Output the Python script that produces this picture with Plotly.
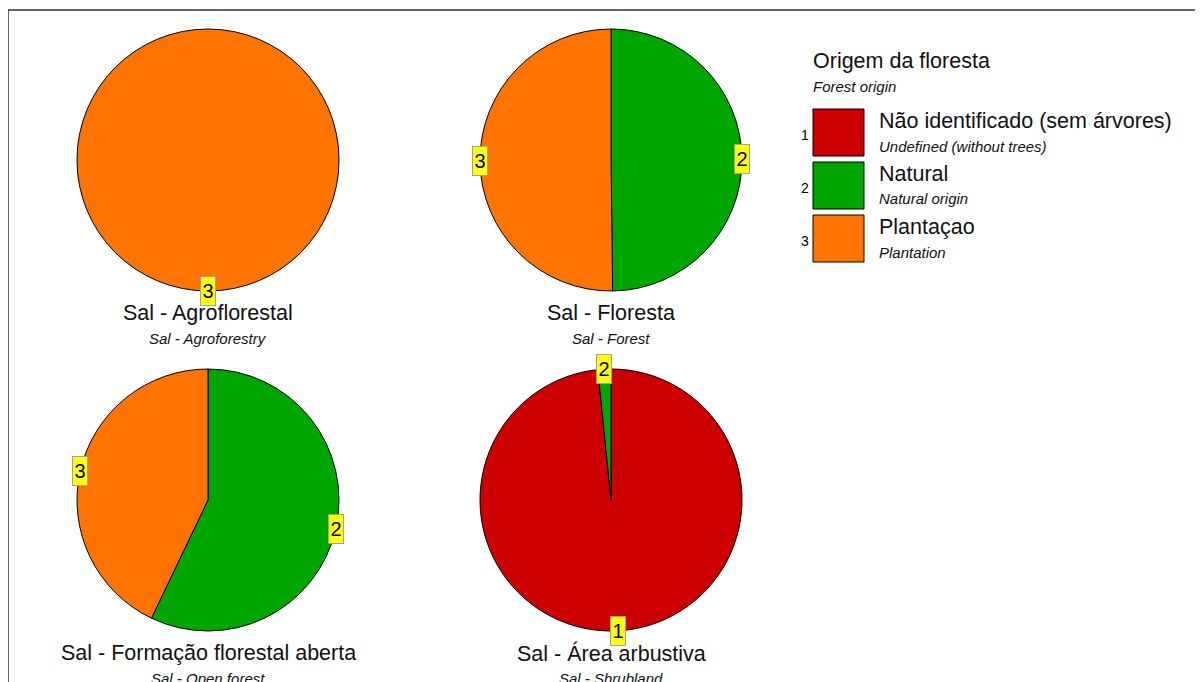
import plotly.graph_objects as go
import math

W, H = 1203, 682

# ---- data ----
codes = [1, 2, 3]
cat_pt = ["Não identificado (sem árvores)", "Natural", "Plantaçao"]
cat_en = ["Undefined (without trees)", "Natural origin", "Plantation"]
colors = ["#CC0000", "#00A600", "#FF7400"]

titles_pt = ["Sal - Agroflorestal", "Sal - Floresta",
             "Sal - Formação florestal aberta", "Sal - Área arbustiva"]
titles_en = ["Sal - Agroforestry", "Sal - Forest", "Sal - Open forest", "Sal - Shrubland"]

agro = [0, 0, 100]
floresta = [0, 49.8, 50.2]
aberta = [0, 57.1, 42.9]
arbustiva = [98.4, 1.6, 0]
series = [agro, floresta, aberta, arbustiva]

legend_title = "Origem da floresta"
legend_sub = "Forest origin"

# ---- layout (pixels in the page; page has an 8px body margin) ----
OFF = 8
centers = [(208, 160), (611, 160), (208, 500), (611, 500)]
R = 131

def px(x):
    return (x - OFF) / W

def py(y):
    return 1 - (y - OFF) / H

fig = go.Figure()
annotations = []
shapes = []

FONT = "Liberation Sans, Arial, sans-serif"
BIG = 21.5
SMALL = 15
TXT = "#111111"

for vals, (cx, cy), tpt, ten in zip(series, centers, titles_pt, titles_en):
    labs = [c for c, v in zip(codes, vals) if v > 0]
    vv = [v for v in vals if v > 0]
    cc = [col for col, v in zip(colors, vals) if v > 0]
    fig.add_trace(go.Pie(
        labels=[str(l) for l in labs], values=vv, sort=False, direction="clockwise",
        rotation=0, marker=dict(colors=cc, line=dict(color="black", width=1)),
        textinfo="none", hoverinfo="label+percent", showlegend=False,
        domain=dict(x=[px(cx - R), px(cx + R)], y=[py(cy + R), py(cy - R)]),
    ))
    total = sum(vv)
    cum = 0
    for l, v in zip(labs, vv):
        mid = (cum + v / 2) / total * 2 * math.pi
        cum += v
        lx = cx + R * math.sin(mid)
        ly = cy - R * math.cos(mid)
        annotations.append(dict(
            x=px(lx), y=py(ly), xref="paper", yref="paper", text=str(l),
            showarrow=False, bgcolor="#FFFF00", bordercolor="#A0A0A0", borderwidth=1,
            borderpad=0, font=dict(family=FONT, size=20, color="black"),
            xanchor="center", yanchor="middle", width=14, height=28,
        ))
    annotations.append(dict(
        x=px(cx), y=py(cy + R + 22), xref="paper", yref="paper", text=tpt,
        showarrow=False, font=dict(family=FONT, size=BIG, color=TXT),
        xanchor="center", yanchor="middle"))
    annotations.append(dict(
        x=px(cx), y=py(cy + R + 47), xref="paper", yref="paper", text="<i>" + ten + "</i>",
        showarrow=False, font=dict(family=FONT, size=SMALL, color=TXT),
        xanchor="center", yanchor="middle"))

# legend
annotations.append(dict(x=px(811), y=py(61), xref="paper", yref="paper", text=legend_title,
                        showarrow=False, font=dict(family=FONT, size=BIG, color=TXT),
                        xanchor="left", yanchor="middle"))
annotations.append(dict(x=px(811), y=py(86), xref="paper", yref="paper",
                        text="<i>" + legend_sub + "</i>",
                        showarrow=False, font=dict(family=FONT, size=SMALL, color=TXT),
                        xanchor="left", yanchor="middle"))
for i, (c, pt, en, col) in enumerate(zip(codes, cat_pt, cat_en, colors)):
    top = 109 + i * 53
    shapes.append(dict(type="rect", xref="paper", yref="paper",
                       x0=px(813), x1=px(864), y0=py(top + 47), y1=py(top),
                       fillcolor=col, line=dict(color="black", width=1)))
    annotations.append(dict(x=px(805), y=py(top + 26), xref="paper", yref="paper", text=str(c),
                            showarrow=False, font=dict(family=FONT, size=14, color="black"),
                            xanchor="center", yanchor="middle"))
    annotations.append(dict(x=px(877), y=py(top + 12), xref="paper", yref="paper", text=pt,
                            showarrow=False, font=dict(family=FONT, size=BIG, color=TXT),
                            xanchor="left", yanchor="middle"))
    annotations.append(dict(x=px(877), y=py(top + 37), xref="paper", yref="paper",
                            text="<i>" + en + "</i>",
                            showarrow=False, font=dict(family=FONT, size=SMALL, color=TXT),
                            xanchor="left", yanchor="middle"))

# frame (top and left lines)
shapes.append(dict(type="line", xref="paper", yref="paper", x0=px(8), x1=px(1203),
                   y0=py(10), y1=py(10), line=dict(color="#333333", width=1.5)))
shapes.append(dict(type="line", xref="paper", yref="paper", x0=px(8), x1=px(8),
                   y0=py(10), y1=py(690), line=dict(color="#333333", width=1.5)))

fig.update_layout(width=W, height=H, margin=dict(l=0, r=0, t=0, b=0),
                  paper_bgcolor="white", plot_bgcolor="white",
                  annotations=annotations, shapes=shapes)

fig.write_html("out.html")
